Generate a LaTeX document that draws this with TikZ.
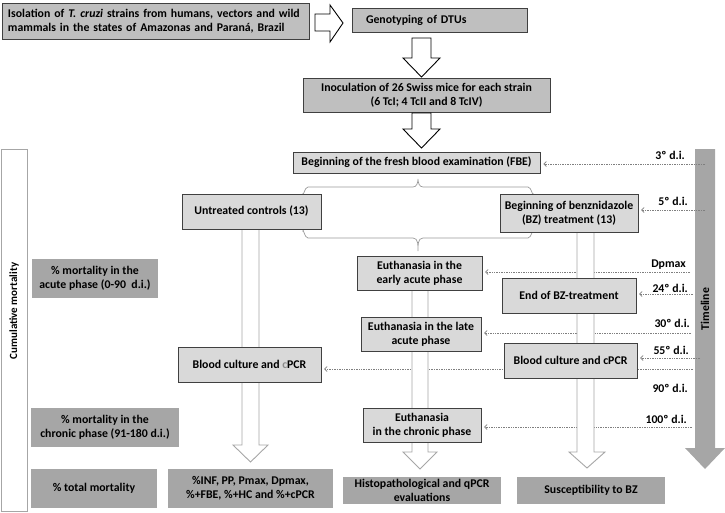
\documentclass[tikz,border=0pt]{standalone}
\usepackage{fontspec}
\setmainfont{Carlito}
\usetikzlibrary{arrows.meta}
\definecolor{midbox}{HTML}{BFBFBF}
\definecolor{lightbox}{HTML}{D9D9D9}
\definecolor{darkbox}{HTML}{A6A6A6}
\definecolor{edgegray}{HTML}{404040}
\definecolor{dotgray}{HTML}{7F7F7F}
\definecolor{hollowgray}{HTML}{A6A6A6}
\definecolor{bracegray}{HTML}{9A9A9A}
\tikzset{
  txt/.style={font=\bfseries\fontsize{11.8}{14.2}\selectfont, text=black},
  midnode/.style={txt, draw=edgegray, fill=midbox, line width=0.9pt, inner sep=0pt, align=center},
  lightnode/.style={txt, draw=edgegray, fill=lightbox, line width=0.9pt, inner sep=0pt, align=center},
  darknode/.style={txt, fill=darkbox, inner sep=0pt, align=center},
  daylabel/.style={txt, anchor=base east, inner sep=0pt},
  dline/.style={draw=dotgray, densely dotted, line width=0.7pt, shorten >=3pt, -{Straight Barb[length=2.5pt,width=5pt]}},
  blackhollow/.style={draw=black, fill=white, line width=0.9pt, line join=miter},
  grayhollow/.style={draw=hollowgray, fill=white, line width=0.9pt, line join=miter},
  bracestyle/.style={draw=bracegray, line width=0.7pt},
}
\begin{document}
\begin{tikzpicture}[x=1pt,y=-1pt]
\useasboundingbox (0,0) rectangle (725,512);

% timeline
\fill[darkbox] (695,149) -- (715,149) -- (715,448) -- (725,448) -- (705,469) -- (685,448) -- (695,448) -- cycle;
\node[txt, rotate=90] (timeline) at (705,309) {Timeline};

% cumulative mortality frame
\node[txt, draw=hollowgray, line width=0.8pt, fill=white, minimum width=26pt, minimum height=362pt, inner sep=0pt] (cumbox) at (14,330) {};
\node[txt, font=\bfseries\fontsize{11}{13}\selectfont, rotate=90] (cum) at (14,311) {Cumulative mortality};

% bracket
\draw[bracestyle] (303,194) to[out=-90,in=180] (308,187) -- (413,187) to[out=0,in=-90] (418,179) to[out=-90,in=180] (423,187) -- (528,187) to[out=0,in=-90] (533,194) -- (533,231) to[out=90,in=0] (528,238) -- (423,238) to[out=180,in=90] (418,251) to[out=90,in=0] (413,238) -- (308,238) to[out=180,in=90] (303,231) -- cycle;

% dotted timeline connectors (coordinates)
\coordinate (t3) at (705,164);
\coordinate (t5) at (705,210);
\coordinate (tdp) at (690,272);
\coordinate (t24) at (693,294);
\coordinate (t30) at (691,333);
\coordinate (t55) at (700,358);
\coordinate (t90) at (693,369);
\coordinate (t100) at (692,427);

\path
  (155.5,21) node[midnode, minimum width=307pt, minimum height=36pt, text width=295pt, align=left] (iso) {Isolation of \textit{T. cruzi} strains from humans, vectors and wild\\mammals in the states of Amazonas and Paraná, Brazil}
  (439.5,20) node[midnode, minimum width=175pt, minimum height=24pt, text width=147pt, align=left] (geno) {Genotyping of DTUs}
  (426.5,95) node[midnode, minimum width=247pt, minimum height=34pt] (inoc) {Inoculation of 26 Swiss mice for each strain\\(6 TcI; 4 TcII and 8 TcIV)}
  (416.5,162.5) node[lightnode, minimum width=247pt, minimum height=21pt] (fbe) {Beginning of the fresh blood examination (FBE)};

% top black hollow arrows
\draw[blackhollow] (315,14) -- (330,14) -- (330,5) -- (343,23) -- (330,42) -- (330,31) -- (315,31) -- cycle;
\draw[blackhollow] (412,38) -- (431,38) -- (431,58) -- (440,58) -- (421.5,77) -- (403,58) -- (412,58) -- cycle;
\draw[blackhollow] (412,113) -- (431,113) -- (431,129) -- (440,129) -- (421.5,148) -- (403,129) -- (412,129) -- cycle;

\path
  (251.5,211.5) node[minimum width=139pt, minimum height=35pt, inner sep=0pt] (untr0) {}
  (569,213) node[minimum width=138pt, minimum height=38pt, inner sep=0pt] (bz0) {}
  (419.5,273) node[minimum width=125pt, minimum height=34pt, inner sep=0pt] (early0) {}
  (569,295.5) node[minimum width=134pt, minimum height=35pt, inner sep=0pt] (endbz0) {}
  (421,334) node[minimum width=120pt, minimum height=34pt, inner sep=0pt] (late0) {}
  (249.5,364.5) node[minimum width=143pt, minimum height=35pt, inner sep=0pt] (bcl0) {}
  (570.5,360.5) node[minimum width=133pt, minimum height=35pt, inner sep=0pt] (bcr0) {}
  (422,425) node[minimum width=118pt, minimum height=34pt, inner sep=0pt] (chron0) {};

\draw[dline] (t3) -- (t3 -| fbe.east);
\draw[dline] (t5) -- (t5 -| bz0.east);
\draw[dline] (tdp) -- (tdp -| early0.east);
\draw[dline] (t24) -- (t24 -| endbz0.east);
\draw[dline] (t30) -- (t30 -| late0.east);
\draw[dline] (t55) -- (t55 -| bcr0.east);
\draw[dline] (t90) -- (t90 -| bcl0.east);
\draw[dline] (t100) -- (t100 -| chron0.east);

% gray hollow arrows
\draw[grayhollow] (242,225) -- (242,445) -- (233,445) -- (250.5,462) -- (268,445) -- (259,445) -- (259,225) -- cycle;
\draw[grayhollow] (412,285) -- (412,452) -- (403,452) -- (420,469) -- (437,452) -- (428,452) -- (428,285) -- cycle;
\draw[grayhollow] (577,228) -- (577,452) -- (569,452) -- (587,468) -- (605,452) -- (594,452) -- (594,228) -- cycle;

% light boxes
\node[lightnode, minimum width=139pt, minimum height=35pt] (untr) at (untr0) {Untreated controls (13)};
\node[lightnode, minimum width=138pt, minimum height=38pt] (bz) at (bz0) {Beginning of benznidazole\\(BZ) treatment (13)};
\node[lightnode, minimum width=125pt, minimum height=34pt] (early) at (early0) {Euthanasia in the\\early acute phase};
\node[lightnode, minimum width=134pt, minimum height=35pt] (endbz) at (endbz0) {End of BZ-treatment};
\node[lightnode, minimum width=120pt, minimum height=34pt] (late) at (late0) {Euthanasia in the late\\acute phase};
\node[lightnode, minimum width=143pt, minimum height=35pt] (bcl) at (bcl0) {Blood culture and {\color{black!45}c}PCR};
\node[lightnode, minimum width=133pt, minimum height=35pt] (bcr) at (bcr0) {Blood culture and cPCR};
\node[lightnode, minimum width=118pt, minimum height=34pt] (chron) at (chron0) {Euthanasia\\in the chronic phase};

% dark boxes
\node[darknode, minimum width=126pt, minimum height=39pt] (macute) at (95,278.5) {\% mortality in the\\acute phase (0-90~ d.i.)};
\node[darknode, minimum width=148pt, minimum height=39pt] (mchron) at (105,427.5) {\% mortality in the\\chronic phase (91-180 d.i.)};
\node[darknode, minimum width=126pt, minimum height=39pt] (mtotal) at (94,488.5) {\% total mortality};
\node[darknode, minimum width=165pt, minimum height=39pt] (params) at (250.5,488.5) {\%INF, PP, Pmax, Dpmax,\\\%+FBE, \%+HC and \%+cPCR};
\node[darknode, minimum width=158pt, minimum height=27pt] (histo) at (422,490.5) {Histopathological and qPCR\\evaluations};
\node[darknode, minimum width=148pt, minimum height=27pt] (susc) at (591,490.5) {Susceptibility to BZ};

% day labels
\node[daylabel] (l3) at (685,159) {3º d.i.};
\node[daylabel] (l5) at (688,205) {5º d.i.};
\node[daylabel] (ldp) at (686,267) {Dpmax};
\node[daylabel] (l24) at (688,292) {24º d.i.};
\node[daylabel] (l30) at (690,327) {30º d.i.};
\node[daylabel] (l55) at (689,354) {55º d.i.};
\node[daylabel] (l90) at (688,392) {90º d.i.};
\node[daylabel] (l100) at (687,423) {100º d.i.};
\end{tikzpicture}
\end{document}
